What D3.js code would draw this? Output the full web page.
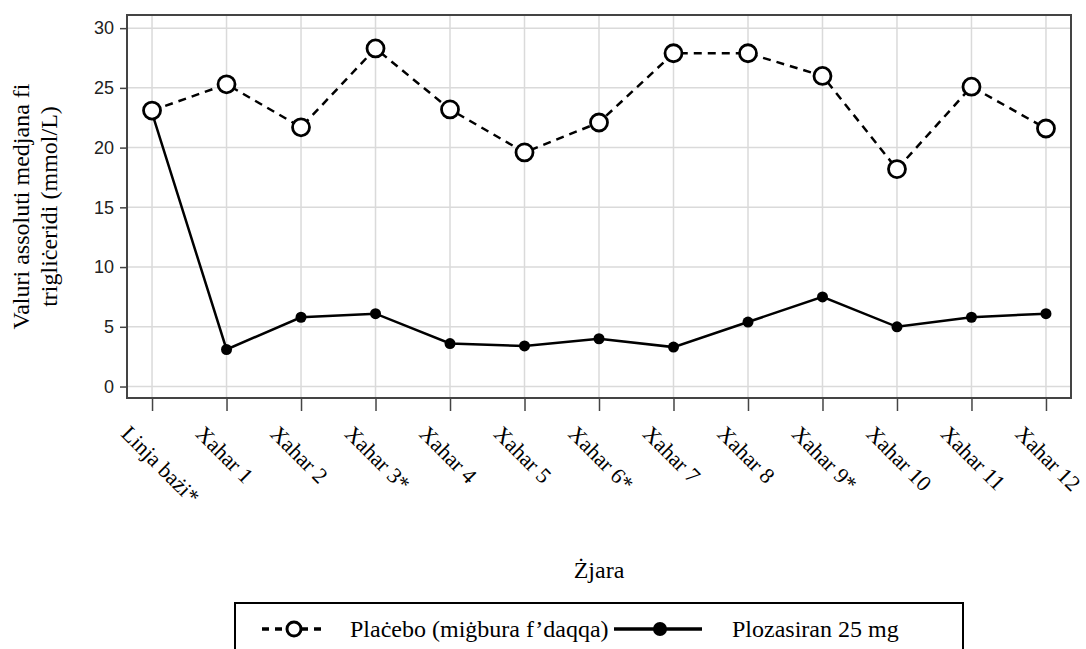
<!DOCTYPE html>
<html>
<head>
<meta charset="utf-8">
<script src="https://cdn.jsdelivr.net/npm/d3@7"></script>
<style>
  body { margin: 0; background: #fff; }
</style>
</head>
<body>
<div id="chart"></div>
<script>
// chart data
const categories = ['Linja bażi*', 'Xahar 1', 'Xahar 2', 'Xahar 3*', 'Xahar 4', 'Xahar 5', 'Xahar 6*',
    'Xahar 7', 'Xahar 8', 'Xahar 9*', 'Xahar 10', 'Xahar 11', 'Xahar 12'];
const placeboValues = [23.1, 25.3, 21.7, 28.3, 23.2, 19.6, 22.1, 27.9, 27.9, 26.0, 18.2, 25.1, 21.6];
const plozasiranValues = [22.9, 3.1, 5.8, 6.1, 3.6, 3.4, 4.0, 3.3, 5.4, 7.5, 5.0, 5.8, 6.1];
const yTicks = [0, 5, 10, 15, 20, 25, 30];
const seriesNames = ['Plaċebo (miġbura f’daqqa)', 'Plozasiran 25 mg'];

const W = 1086, H = 649;
const plot = { left: 127, top: 15, right: 1071, bottom: 398 };
const serif = '"Liberation Serif", "Times New Roman", serif';
const sans = '"Liberation Sans", Arial, sans-serif';

const svg = d3.select('#chart')
    .append('svg')
    .attr('width', W)
    .attr('height', H);

const xScale = d3.scalePoint()
    .domain(categories)
    .range([plot.left, plot.right])
    .padding(0.336);
const yScale = d3.scaleLinear()
    .domain([-0.96, 31.1])
    .range([plot.bottom, plot.top]);

// grid lines
svg.append('g')
    .selectAll('line')
    .data(yTicks)
    .enter()
    .append('line')
    .attr('x1', plot.left)
    .attr('x2', plot.right)
    .attr('y1', d => yScale(d))
    .attr('y2', d => yScale(d))
    .attr('stroke', '#dadada')
    .attr('stroke-width', 1.5);
svg.append('g')
    .selectAll('line')
    .data(categories)
    .enter()
    .append('line')
    .attr('x1', d => xScale(d))
    .attr('x2', d => xScale(d))
    .attr('y1', plot.top)
    .attr('y2', plot.bottom)
    .attr('stroke', '#dadada')
    .attr('stroke-width', 1.5);

// axes
const yAxis = svg.append('g')
    .attr('transform', `translate(${plot.left}, 0)`)
    .call(d3.axisLeft(yScale).tickValues(yTicks).tickSize(7).tickPadding(6));
yAxis.select('.domain').remove();
yAxis.selectAll('line').attr('stroke', '#444').attr('stroke-width', 1.5);
yAxis.selectAll('text')
    .style('font-family', sans)
    .style('font-size', '18px')
    .attr('fill', '#222');

const xAxis = svg.append('g')
    .attr('transform', `translate(0, ${plot.bottom})`)
    .call(d3.axisBottom(xScale).tickSize(13).tickFormat(''));
xAxis.select('.domain').remove();
xAxis.selectAll('line').attr('stroke', '#444').attr('stroke-width', 1.5);

svg.append('g')
    .selectAll('text')
    .data(categories)
    .enter()
    .append('text')
    .attr('transform', d => `translate(${xScale(d) - 32}, 435) rotate(45)`)
    .attr('text-anchor', 'start')
    .style('font-family', serif)
    .style('font-size', '22px')
    .text(d => d);

// frame
svg.append('rect')
    .attr('x', plot.left)
    .attr('y', plot.top)
    .attr('width', plot.right - plot.left)
    .attr('height', plot.bottom - plot.top)
    .attr('fill', 'none')
    .attr('stroke', '#444')
    .attr('stroke-width', 2);

// axis titles
const yTitle = svg.append('text')
    .attr('transform', `translate(0, ${(plot.top + plot.bottom) / 2}) rotate(-90)`)
    .attr('text-anchor', 'middle')
    .style('font-family', serif)
    .style('font-size', '24px');
yTitle.append('tspan').attr('x', 0).attr('y', 29).text('Valuri assoluti medjana fi');
yTitle.append('tspan').attr('x', 0).attr('y', 57).text('trigliċeridi (mmol/L)');

svg.append('text')
    .attr('x', (plot.left + plot.right) / 2)
    .attr('y', 578)
    .attr('text-anchor', 'middle')
    .style('font-family', serif)
    .style('font-size', '24px')
    .text('Żjara');

// series
const line = d3.line()
    .x((d, i) => xScale(categories[i]))
    .y(d => yScale(d));

svg.append('path')
    .datum(plozasiranValues)
    .attr('fill', 'none')
    .attr('stroke', '#000')
    .attr('stroke-width', 2.5)
    .attr('d', line);
svg.append('g')
    .selectAll('circle')
    .data(plozasiranValues)
    .enter()
    .append('circle')
    .attr('cx', (d, i) => xScale(categories[i]))
    .attr('cy', d => yScale(d))
    .attr('r', 5.5)
    .attr('fill', '#000');

svg.append('path')
    .datum(placeboValues)
    .attr('fill', 'none')
    .attr('stroke', '#000')
    .attr('stroke-width', 2.5)
    .attr('stroke-dasharray', '8 6')
    .attr('d', line);
svg.append('g')
    .selectAll('circle')
    .data(placeboValues)
    .enter()
    .append('circle')
    .attr('cx', (d, i) => xScale(categories[i]))
    .attr('cy', d => yScale(d))
    .attr('r', 8.5)
    .attr('fill', '#fff')
    .attr('stroke', '#000')
    .attr('stroke-width', 2.8);

// legend
const legend = svg.append('g');
legend.append('rect')
    .attr('x', 235)
    .attr('y', 603)
    .attr('width', 728)
    .attr('height', 70)
    .attr('fill', '#fff')
    .attr('stroke', '#000')
    .attr('stroke-width', 2);

const ly = 629;
legend.append('line')
    .attr('x1', 262).attr('x2', 326)
    .attr('y1', ly).attr('y2', ly)
    .attr('stroke', '#000')
    .attr('stroke-width', 3.5)
    .attr('stroke-dasharray', '7 6');
legend.append('circle')
    .attr('cx', 294).attr('cy', ly)
    .attr('r', 7)
    .attr('fill', '#fff')
    .attr('stroke', '#000')
    .attr('stroke-width', 3);
legend.append('text')
    .attr('x', 350).attr('y', ly + 8)
    .style('font-family', serif)
    .style('font-size', '24px')
    .text(seriesNames[0]);

legend.append('line')
    .attr('x1', 614).attr('x2', 702)
    .attr('y1', ly).attr('y2', ly)
    .attr('stroke', '#000')
    .attr('stroke-width', 3.5);
legend.append('circle')
    .attr('cx', 660).attr('cy', ly)
    .attr('r', 7)
    .attr('fill', '#000');
legend.append('text')
    .attr('x', 732).attr('y', ly + 8)
    .style('font-family', serif)
    .style('font-size', '24px')
    .text(seriesNames[1]);
</script>
</body>
</html>
